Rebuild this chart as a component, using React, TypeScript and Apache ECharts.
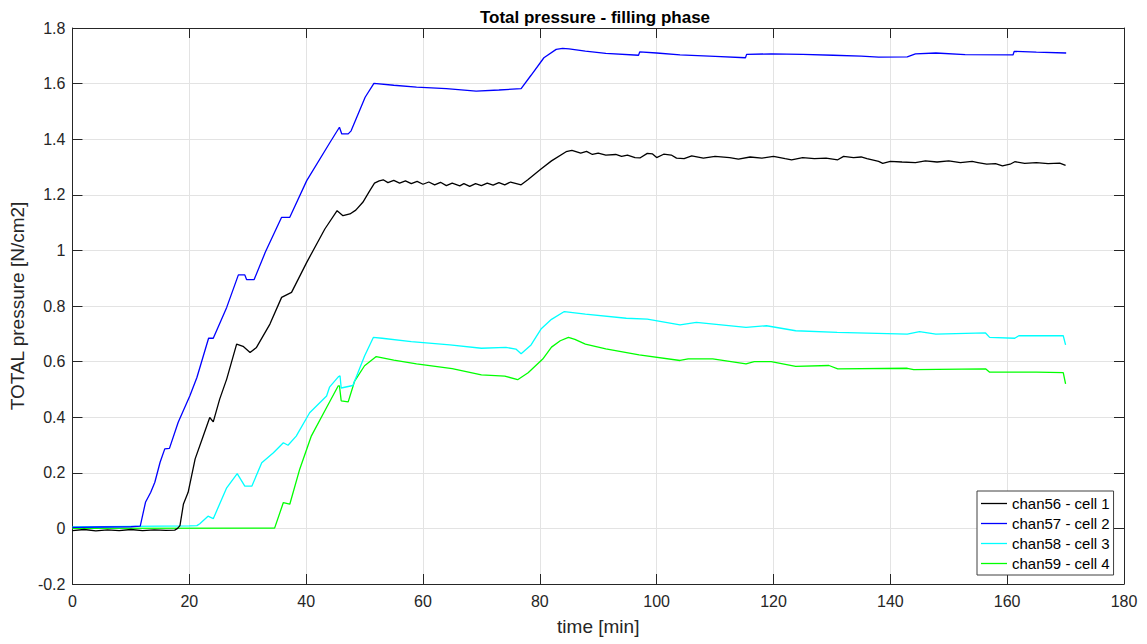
import React, { useEffect, useRef } from "react";
import * as echarts from "echarts";

// time [min], TOTAL pressure [N/cm2]
const chan56: [number, number][] = [
  [0, -0.008], [2, -0.004], [4, -0.009], [6, -0.005], [8, -0.008], [10, -0.004], [12, -0.008],
  [14, -0.005], [16, -0.007], [17.5, -0.006], [18.0, 0.0], [18.4, 0.01], [19.0, 0.088], [19.8, 0.13],
  [21.0, 0.25], [22.4, 0.333], [23.5, 0.399], [24.1, 0.383], [25.2, 0.465], [26.4, 0.537], [28.1, 0.663],
  [29.2, 0.655], [30.4, 0.633], [31.5, 0.651], [33.8, 0.735], [35.8, 0.831], [37.5, 0.849], [40.1, 0.957],
  [43.2, 1.077], [45.3, 1.143], [46.3, 1.125], [47.5, 1.131], [48.5, 1.145], [49.7, 1.173], [50.9, 1.215],
  [51.7, 1.242], [52.5, 1.25], [53.2, 1.254], [54, 1.244], [55, 1.252], [56, 1.242], [57, 1.25], [58, 1.24],
  [59, 1.248], [60, 1.238], [61, 1.246], [62, 1.236], [63, 1.245], [64, 1.233], [65, 1.242], [66.3, 1.232],
  [67, 1.24], [68, 1.23], [69, 1.24], [70, 1.233], [71, 1.242], [72, 1.235], [73, 1.244], [74, 1.236],
  [75, 1.246], [76.8, 1.236], [78, 1.255], [80.2, 1.293], [82, 1.322], [84.5, 1.355], [85.5, 1.36],
  [87, 1.35], [88, 1.356], [89, 1.345], [90, 1.35], [91.3, 1.343], [93, 1.345], [94, 1.338], [95, 1.343],
  [96.3, 1.334], [97.2, 1.333], [98.4, 1.349], [99.3, 1.347], [100, 1.334], [101.2, 1.346], [102.5, 1.343],
  [103.4, 1.332], [104.7, 1.33], [106, 1.34], [108, 1.332], [110, 1.338], [112.5, 1.334], [114, 1.328],
  [116, 1.336], [118, 1.332], [120, 1.338], [122, 1.33], [123.1, 1.326], [125, 1.334], [127, 1.33],
  [129, 1.332], [131, 1.326], [132, 1.338], [133.7, 1.334], [135, 1.336], [136, 1.33], [138, 1.32],
  [138.7, 1.313], [140, 1.32], [142, 1.318], [144.3, 1.316], [146, 1.322], [148, 1.318], [150, 1.322],
  [152, 1.316], [154, 1.32], [155, 1.316], [156.5, 1.31], [158, 1.312], [159.2, 1.304], [160.5, 1.31],
  [161.3, 1.319], [163, 1.313], [165, 1.316], [167, 1.312], [169, 1.314], [170, 1.306],
];

const chan57: [number, number][] = [
  [0, 0.004], [5, 0.005], [10, 0.006], [11.6, 0.008], [12.5, 0.094], [13.4, 0.13], [14.1, 0.166],
  [15.0, 0.238], [15.8, 0.286], [16.6, 0.288], [18.1, 0.382], [20.1, 0.477], [21.3, 0.543], [23.3, 0.684],
  [24.1, 0.684], [26.4, 0.795], [28.4, 0.912], [29.5, 0.912], [29.8, 0.895], [31.1, 0.895], [33.0, 0.993],
  [35.8, 1.119], [37.2, 1.119], [40.1, 1.251], [44.1, 1.389], [45.7, 1.443], [46.1, 1.419], [47.2, 1.419],
  [47.7, 1.43], [50.1, 1.551], [51.6, 1.601], [55, 1.594], [58.9, 1.587], [64, 1.582], [69.1, 1.573],
  [73, 1.577], [76.8, 1.582], [78.5, 1.63], [80.7, 1.693], [82.8, 1.723], [83.9, 1.727], [85, 1.725],
  [87.8, 1.717], [91.3, 1.709], [96.9, 1.702], [97.1, 1.714], [100, 1.71], [104, 1.703], [110, 1.698],
  [115.2, 1.693], [115.4, 1.705], [119.6, 1.707], [125, 1.705], [130.2, 1.702], [135, 1.699], [138, 1.695],
  [142.9, 1.696], [144.3, 1.707], [147.8, 1.71], [152.8, 1.704], [161.0, 1.703], [161.2, 1.716],
  [165, 1.713], [170.1, 1.71],
];

const chan58: [number, number][] = [
  [0, 0.005], [5, 0.006], [10, 0.007], [15, 0.008], [20, 0.009], [21.3, 0.01], [21.8, 0.017], [23.2, 0.044],
  [24.1, 0.035], [26.4, 0.146], [28.2, 0.197], [29.5, 0.152], [30.7, 0.152], [32.4, 0.236], [34.4, 0.272],
  [36.1, 0.308], [36.9, 0.299], [38.3, 0.332], [40.6, 0.416], [43.5, 0.476], [44.0, 0.508], [45.5, 0.545],
  [45.8, 0.549], [46.0, 0.505], [48.0, 0.514], [50, 0.62], [51.5, 0.687], [53, 0.684], [58, 0.672],
  [64.6, 0.66], [70, 0.648], [74.2, 0.651], [75.9, 0.645], [76.8, 0.628], [78.5, 0.66], [80.2, 0.717],
  [82, 0.752], [84.2, 0.78], [87.8, 0.771], [94.8, 0.756], [98.4, 0.753], [104, 0.732], [106.8, 0.741],
  [115.3, 0.723], [118.8, 0.729], [123.8, 0.711], [130.9, 0.705], [142.9, 0.699], [145, 0.708],
  [147.8, 0.699], [156.3, 0.703], [157, 0.687], [161.3, 0.684], [162, 0.693], [169.6, 0.693], [170, 0.66],
];

const chan59: [number, number][] = [
  [0, 0.0], [34.6, 0.001], [36.1, 0.093], [37.2, 0.087], [38.9, 0.213], [40.9, 0.333], [43.5, 0.435],
  [45.5, 0.513], [45.7, 0.513], [46.0, 0.459], [47.2, 0.455], [48.3, 0.53], [50, 0.585], [52, 0.618],
  [55, 0.605], [58.9, 0.592], [65, 0.575], [70, 0.552], [74, 0.548], [76.2, 0.535], [78, 0.56],
  [80.5, 0.609], [82, 0.652], [83.5, 0.675], [84.9, 0.687], [86, 0.68], [87.8, 0.663], [91.3, 0.646],
  [97, 0.624], [104, 0.604], [105.4, 0.61], [109.6, 0.61], [115.3, 0.592], [116.7, 0.6], [119.6, 0.6],
  [123.8, 0.583], [129.5, 0.586], [131, 0.574], [142.9, 0.576], [144, 0.571], [156.3, 0.574],
  [157, 0.562], [165, 0.562], [169.6, 0.56], [170, 0.52],
];

const seriesNames = ["chan56 - cell 1", "chan57 - cell 2", "chan58 - cell 3", "chan59 - cell 4"];
const seriesColors = ["#000000", "#0000ff", "#00ffff", "#00ff00"];
const seriesData = [chan56, chan57, chan58, chan59];

const xMin = 0, xMax = 180, xStep = 20;
const yMin = -0.2, yMax = 1.8, yStep = 0.2;

const FONT = "'Liberation Sans', Arial, Helvetica, sans-serif";
const AX = "#262626";

export default function App() {
  const ref = useRef<HTMLDivElement>(null);
  useEffect(() => {
    if (!ref.current) return;
    const chart = echarts.init(ref.current, null, { renderer: "svg" });
    const tickFmt = (v: number) => String(Number(v.toFixed(1)));
    chart.setOption({
      animation: false,
      backgroundColor: "#ffffff",
      textStyle: { fontFamily: FONT },
      title: {
        text: "Total pressure - filling phase",
        left: 595,
        top: 9,
        padding: 0,
        textAlign: "center",
        textStyle: { fontFamily: FONT, fontSize: 17, fontWeight: "bold", color: "#000" },
      },
      grid: { left: 69, right: 23, top: 28, bottom: 60, containLabel: false },
      legend: {
        orient: "vertical",
        left: 977,
        top: 491,
        padding: [5, 4, 4, 4],
        itemWidth: 26,
        itemHeight: 14,
        itemGap: 5,
        icon: "path://M0,0 L26,0 L26,1.3 L0,1.3 Z",
        backgroundColor: "#ffffff",
        borderColor: "#404040",
        borderWidth: 1,
        borderRadius: 0,
        textStyle: { fontFamily: FONT, fontSize: 15, color: "#000" },
        data: seriesNames,
      },
      xAxis: [
        {
          type: "value",
          min: xMin,
          max: xMax,
          interval: xStep,
          position: "bottom",
          name: "time [min]",
          nameLocation: "middle",
          nameGap: 33,
          nameTextStyle: { fontFamily: FONT, fontSize: 19, color: AX },
          axisLine: { onZero: false, lineStyle: { color: AX, width: 1 } },
          axisTick: { inside: true, length: 10, lineStyle: { color: AX } },
          axisLabel: { margin: 9, fontFamily: FONT, fontSize: 16, color: AX, formatter: tickFmt },
          splitLine: { show: true, lineStyle: { color: "#e3e3e3", width: 1 } },
        },
        {
          type: "value",
          min: xMin,
          max: xMax,
          interval: xStep,
          position: "top",
          axisLine: { onZero: false, lineStyle: { color: AX, width: 1 } },
          axisTick: { inside: true, length: 10, lineStyle: { color: AX } },
          axisLabel: { show: false },
          splitLine: { show: false },
        },
      ],
      yAxis: [
        {
          type: "value",
          min: yMin,
          max: yMax,
          interval: yStep,
          position: "left",
          name: "TOTAL pressure [N/cm2]",
          nameLocation: "middle",
          nameGap: 37,
          nameTextStyle: { fontFamily: FONT, fontSize: 19, color: AX },
          axisLine: { show: true, onZero: false, lineStyle: { color: AX, width: 1 } },
          axisTick: { show: true, inside: true, length: 10, lineStyle: { color: AX } },
          axisLabel: { margin: 7, fontFamily: FONT, fontSize: 16, color: AX, formatter: tickFmt },
          splitLine: { show: true, lineStyle: { color: "#e3e3e3", width: 1 } },
        },
        {
          type: "value",
          min: yMin,
          max: yMax,
          interval: yStep,
          position: "right",
          axisLine: { show: true, onZero: false, lineStyle: { color: AX, width: 1 } },
          axisTick: { show: true, inside: true, length: 10, lineStyle: { color: AX } },
          axisLabel: { show: false },
          splitLine: { show: false },
        },
      ],
      series: seriesData.map((d, i) => ({
        name: seriesNames[i],
        type: "line",
        xAxisIndex: 0,
        yAxisIndex: 0,
        data: d,
        symbol: "none",
        showSymbol: false,
        smooth: false,
        lineStyle: { color: seriesColors[i], width: 1.3 },
        itemStyle: { color: seriesColors[i] },
        z: 2 + (3 - i),
      })),
    });
    return () => chart.dispose();
  }, []);
  return (
    <div
      ref={ref}
      style={{ position: "fixed", left: 0, top: 0, width: 1147, height: 644, background: "#fff" }}
    />
  );
}
